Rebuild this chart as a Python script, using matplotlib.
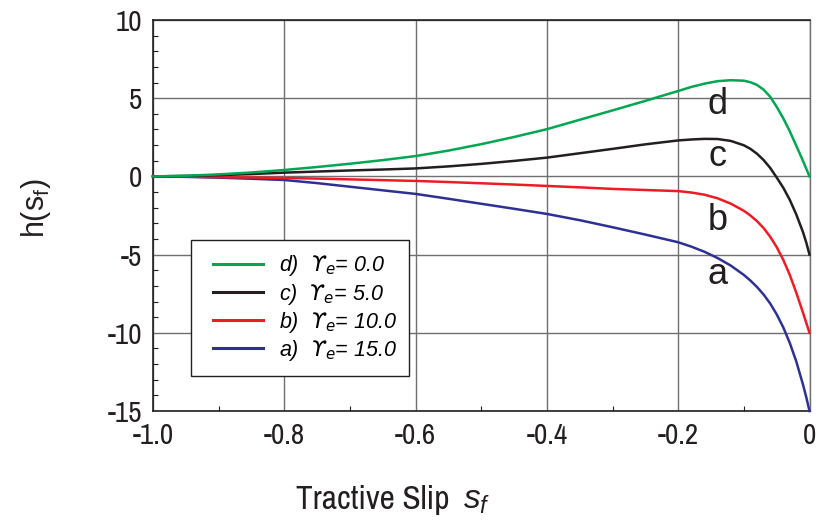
import matplotlib
matplotlib.use("Agg")
import matplotlib.pyplot as plt
from matplotlib.lines import Line2D
from matplotlib.patches import Rectangle

# ---- data ----
slip = [-1.0, -0.95, -0.9, -0.85, -0.8, -0.75, -0.7, -0.65, -0.6, -0.55, -0.5, -0.45,
        -0.4, -0.35, -0.3, -0.25, -0.2, -0.18, -0.16, -0.14, -0.12, -0.10, -0.09, -0.08,
        -0.07, -0.06, -0.05, -0.04, -0.03, -0.02, -0.01, -0.005, 0.0]
h_d = [0.0, 0.04, 0.13, 0.25, 0.41, 0.60, 0.81, 1.04, 1.30, 1.65, 2.06, 2.52,
       3.02, 3.62, 4.22, 4.83, 5.46, 5.72, 5.93, 6.09, 6.15, 6.12, 6.02, 5.85,
       5.55, 5.10, 4.45, 3.72, 2.88, 1.95, 1.00, 0.50, 0.0]
h_c = [0.0, 0.03, 0.08, 0.15, 0.24, 0.31, 0.38, 0.44, 0.51, 0.64, 0.80, 0.99,
       1.20, 1.48, 1.76, 2.05, 2.30, 2.36, 2.40, 2.39, 2.27, 1.99, 1.76, 1.45,
       1.05, 0.55, -0.07, -0.72, -1.50, -2.45, -3.55, -4.22, -5.0]
h_b = [0.0, -0.02, -0.05, -0.07, -0.10, -0.14, -0.19, -0.24, -0.29, -0.36, -0.44, -0.52,
       -0.61, -0.70, -0.80, -0.87, -0.94, -1.03, -1.17, -1.40, -1.74, -2.20, -2.50, -2.86,
       -3.30, -3.85, -4.52, -5.33, -6.30, -7.45, -8.70, -9.35, -10.0]
h_a = [0.0, -0.03, -0.08, -0.15, -0.23, -0.43, -0.66, -0.89, -1.12, -1.43, -1.75, -2.07,
       -2.40, -2.80, -3.25, -3.72, -4.21, -4.49, -4.82, -5.22, -5.70, -6.30, -6.66, -7.07,
       -7.55, -8.12, -8.82, -9.65, -10.65, -11.85, -13.30, -14.10, -15.0]

curve_names = ["d", "c", "b", "a"]
curve_values = [h_d, h_c, h_b, h_a]
curve_colors = ["#00A651", "#231F20", "#ED1C24", "#2E3192"]
gamma_e = ["0.0", "5.0", "10.0", "15.0"]
# curve-label anchors (slip, h at baseline)
label_x = [-0.1395, -0.1395, -0.1395, -0.1395]
label_y = [4.01, 0.68, -3.41, -6.85]

xticks = [-1.0, -0.8, -0.6, -0.4, -0.2, 0.0]
xticklabels = ["-1.0", "-0.8", "-0.6", "-0.4", "-0.2", "0"]
yticks = [10, 5, 0, -5, -10, -15]
yticklabels = ["10", "5", "0", "-5", "-10", "-15"]

plt.rcParams.update({
    "font.family": ["Liberation Sans", "DejaVu Sans"],
    "mathtext.fontset": "custom",
    "mathtext.rm": "Liberation Sans",
    "mathtext.it": "Liberation Sans:italic",
    "mathtext.fallback": "stixsans",
    "axes.unicode_minus": False,
})

INK, GRID = "#231F20", "#707070"
NARROW = ["Archivo Narrow", "Liberation Sans", "DejaVu Sans"]

fig = plt.figure(figsize=(8.21, 5.30), dpi=100)
ax = fig.add_axes([153 / 821, 119 / 530, 656.5 / 821, 391 / 530])

for h, col in list(zip(curve_values, curve_colors))[::-1]:
    ax.plot(slip, h, color=col, lw=1.8, zorder=3, clip_on=False)

for name, sx, sy in zip(curve_names, label_x, label_y):
    ax.text(sx, sy, name, fontsize=26, ha="center", va="baseline", color=INK, zorder=4)

ax.set_xlim(-1.0, 0.0)
ax.set_ylim(-15, 10)
ax.set_xticks(xticks)
ax.set_xticklabels(xticklabels, family=NARROW, fontsize=21)
ax.set_yticks(yticks)
ax.set_yticklabels(yticklabels, family=NARROW, fontsize=21)
ax.set_xticks([-0.9, -0.7, -0.5, -0.3, -0.1], minor=True)
ax.set_yticks([v for v in range(-14, 10) if v % 5 != 0], minor=True)
ax.tick_params(which="major", direction="in", length=0, pad=8, colors=INK)
ax.tick_params(which="minor", direction="in", length=3.5, width=0.8, colors=INK)
ax.grid(True, which="major", color=GRID, lw=1.0, zorder=1)
for side in ("left", "bottom", "top"):
    ax.spines[side].set_linewidth(1.2)
    ax.spines[side].set_color(INK)
ax.spines["right"].set_color(GRID)
ax.spines["right"].set_linewidth(1.0)

# legend: frame drawn separately so the inner padding can match
ax.add_patch(Rectangle((0.0579, 0.0903), 0.3325, 0.347, transform=ax.transAxes,
                       facecolor="white", edgecolor=INK, lw=1.0, zorder=5))
handles = [Line2D([], [], color=col, lw=2.2) for col in curve_colors]
labels = [f"{n})  $\\mathit{{ϒ}}_e$= {g}" for n, g in zip(curve_names, gamma_e)]
leg = ax.legend(handles, labels, loc="center left", bbox_to_anchor=(0.0914, 0.2634),
                borderaxespad=0, borderpad=0, frameon=False,
                prop={"family": "Liberation Sans", "style": "italic", "size": 15.5},
                handlelength=2.3, handletextpad=0.75, labelspacing=0.14)
leg.set_zorder(6)
for t in leg.get_texts():
    t.set_math_fontfamily("dejavusans")

fig.text(296 / 821, 21 / 530, "Tractive Slip", fontsize=24,
         family=NARROW, ha="left", va="baseline", color=INK)
fig.text(463 / 821, 21 / 530, "$s_f$", fontsize=24, ha="left", va="baseline", color=INK)
fig.text(36 / 821, 322 / 530, r"h(s$_\mathrm{f}$)", fontsize=22, rotation=90,
         ha="center", va="center", color=INK)

fig.savefig("out.png", dpi=100)
